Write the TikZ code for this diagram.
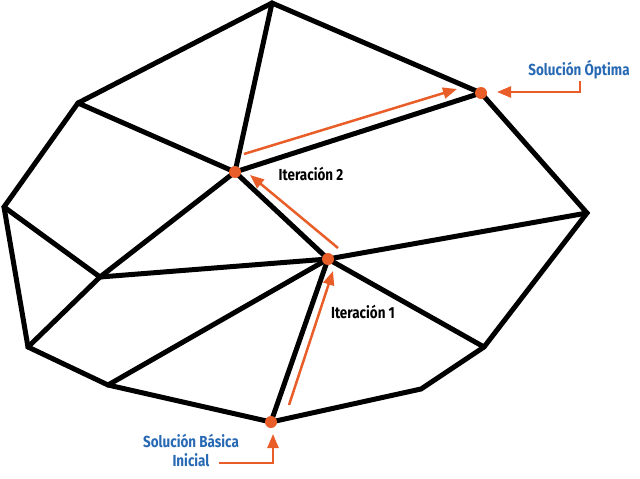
\documentclass[tikz,border=0pt]{standalone}
\usepackage{fontspec}
\setmainfont{Fira Sans}
\usetikzlibrary{arrows.meta}
\definecolor{org}{RGB}{232,93,40}
\definecolor{blu}{RGB}{40,105,180}
\tikzset{
  edge/.style={line width=5pt, line join=miter, line cap=round},
  dot/.style={circle, fill=org, inner sep=0pt, minimum size=12pt},
  arr/.style={draw=org, line width=2.5pt, -{Triangle[length=14pt,width=11pt]}, shorten >=0pt},
  lab/.style={font=\bfseries\fontsize{16}{19}\selectfont, xscale=0.84, align=center, inner sep=0pt},
}
\begin{document}
\begin{tikzpicture}[x=1pt,y=-1pt]
\useasboundingbox (0,0) rectangle (640,479);
\coordinate (A) at (272,3);
\coordinate (B) at (481,93);
\coordinate (C) at (587,213);
\coordinate (D) at (484,347);
\coordinate (E) at (421,389);
\coordinate (F) at (271,422);
\coordinate (G) at (108,385);
\coordinate (H) at (28,347);
\coordinate (I) at (4,207);
\coordinate (J) at (78,103);
\coordinate (K) at (235,172);
\coordinate (L) at (328,259);
\coordinate (M) at (100,277);
\draw[edge] (A) -- (B) -- (C) -- (D) -- (E) -- (F) -- (G) -- (H) -- (I) -- (J) -- cycle;
\draw[edge] (A) -- (K);
\draw[edge] (J) -- (K);
\draw[edge] (K) -- (B);
\draw[edge] (K) -- (L);
\draw[edge] (K) -- (M);
\draw[edge] (I) -- (M);
\draw[edge] (M) -- (H);
\draw[edge] (M) -- (L);
\draw[edge] (L) -- (C);
\draw[edge] (L) -- (D);
\draw[edge] (L) -- (F);
\draw[edge] (L) -- (G);
\node[dot] (dK) at (K) {};
\node[dot] (dL) at (L) {};
\node[dot] (dB) at (B) {};
\node[dot] (dF) at (F) {};
% path arrows
\coordinate (a1s) at (289,405);
\coordinate (a1e) at (333,271);
\coordinate (a2s) at (338,248);
\coordinate (a2e) at (250,175);
\coordinate (a3s) at (244,154);
\coordinate (a3e) at (457,89);
\draw[arr] (a1s) -- (a1e);
\draw[arr] (a2s) -- (a2e);
\draw[arr] (a3s) -- (a3e);
% labels
\node[lab, text=blu] (opt) at (579,70) {Solución Óptima};
\node[lab, text=blu] (ini) at (191,450) {Solución Básica\\Inicial};
\node[lab] (it2) at (311,174) {Iteración 2};
\node[lab] (it1) at (363,312) {Iteración 1};
% label arrows
\coordinate (o1) at (580,81);
\coordinate (o2) at (580,92);
\coordinate (o3) at (497,92);
\draw[arr] (o1) -- (o2) -- (o3);
\coordinate (i1) at (219,463);
\coordinate (i2) at (273,463);
\coordinate (i3) at (273,434);
\draw[arr] (i1) -- (i2) -- (i3);
\end{tikzpicture}
\end{document}
